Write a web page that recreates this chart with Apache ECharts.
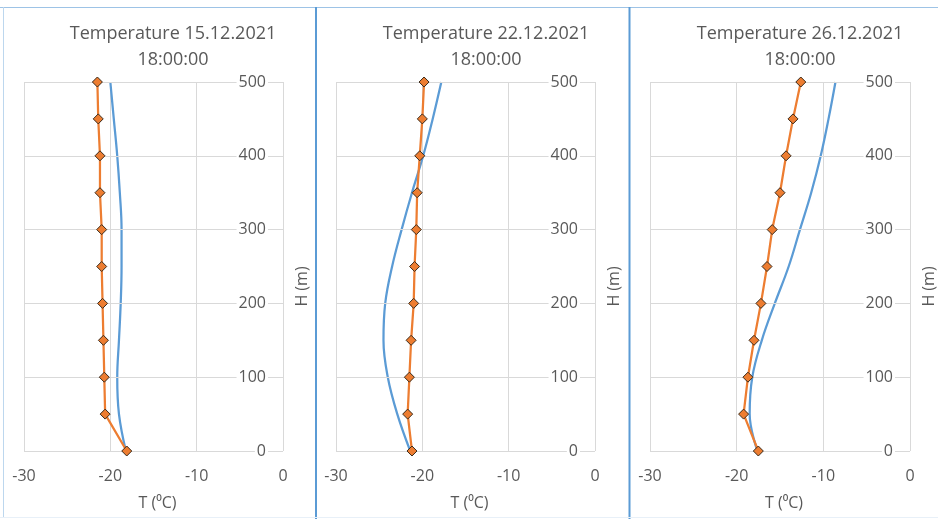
<!DOCTYPE html>
<html>
<head>
<meta charset="utf-8">
<script src="https://cdn.jsdelivr.net/npm/echarts@6/dist/echarts.min.js"></script>
<style>
html,body{margin:0;padding:0;background:#fff;}
#chart{width:938px;height:519px;}
</style>
</head>
<body>
<div id="chart"></div>
<script>
// Heights (m)
var heights = [0, 50, 100, 150, 200, 250, 300, 350, 400, 450, 500];
// Panel titles
var titles = ['Temperature 15.12.2021\n18:00:00', 'Temperature 22.12.2021\n18:00:00', 'Temperature 26.12.2021\n18:00:00'];
// Measured (orange, markers) temperatures
var measured1 = [-18.1, -20.6, -20.7, -20.8, -20.9, -21.0, -21.0, -21.2, -21.2, -21.4, -21.5];
var measured2 = [-21.2, -21.7, -21.5, -21.3, -21.0, -20.9, -20.7, -20.6, -20.3, -20.0, -19.8];
var measured3 = [-17.5, -19.2, -18.7, -18.0, -17.2, -16.5, -15.9, -15.0, -14.3, -13.5, -12.6];
// Model (blue, smooth) temperatures
var model1 = [-18.2, -19.0, -19.2, -19.0, -18.8, -18.7, -18.7, -18.9, -19.2, -19.6, -20.0];
var model2 = [-21.4, -22.9, -24.0, -24.5, -24.3, -23.5, -22.4, -21.2, -19.9, -18.8, -17.8];
var model3 = [-17.6, -18.5, -18.2, -17.1, -15.6, -14.0, -12.7, -11.4, -10.3, -9.4, -8.6];
// Axis settings
var xMin = -30, xMax = 0, xStep = 10;
var yMin = 0, yMax = 500, yStep = 100;

var measured = [measured1, measured2, measured3];
var model = [model1, model2, model3];

var gridLefts = [24, 336, 650];
var gridWidths = [259, 259, 260];
var titleCenters = [168, 481, 795];
var txt = '#595959';
var fontFam = '"Open Sans", "Liberation Sans", sans-serif';

function pairs(xs) { return xs.map(function (v, i) { return [v, heights[i]]; }); }

var option = {
  backgroundColor: '#fff',
  animation: false,
  title: titles.map(function (t, i) {
    return {
      text: t, left: titleCenters[i], top: 16, textAlign: 'center',
      textStyle: { color: txt, fontSize: 18, fontWeight: 'normal', fontFamily: fontFam, lineHeight: 26 }
    };
  }),
  grid: gridLefts.map(function (l, i) {
    return { left: l, width: gridWidths[i], top: 82, bottom: 68, containLabel: false };
  }),
  xAxis: [0, 1, 2].map(function (i) {
    return {
      type: 'value', gridIndex: i, min: xMin, max: xMax, interval: xStep,
      name: 'T (\u2070C)', nameLocation: 'middle', nameGap: 44,
      nameTextStyle: { color: txt, fontSize: 16, fontFamily: fontFam, padding: [0, 0, 0, 8] },
      axisLine: { show: false }, axisTick: { show: false },
      axisLabel: { color: txt, fontSize: 16, fontFamily: fontFam, margin: 17 },
      splitLine: { show: true, lineStyle: { color: '#d9d9d9', width: 1 } }
    };
  }),
  yAxis: [0, 1, 2].map(function (i) {
    return {
      type: 'value', gridIndex: i, position: 'right', min: yMin, max: yMax, interval: yStep,
      name: 'H (m)', nameLocation: 'middle', nameGap: 11, nameRotate: 90,
      nameTextStyle: { color: txt, fontSize: 16, fontFamily: fontFam, padding: [0, 40, 0, 0] },
      axisLine: { show: false }, axisTick: { show: false },
      axisLabel: { inside: true, color: txt, fontSize: 16, fontFamily: fontFam, margin: 15,
        backgroundColor: '#fff', padding: [0, 2, 0, 2] },
      splitLine: { show: true, lineStyle: { color: '#d9d9d9', width: 1 } },
      z: 3
    };
  }),
  series: [],
  graphic: [
    { type: 'line', shape: { x1: 0, y1: 7.5, x2: 938, y2: 7.5 }, style: { stroke: '#9dc3e6', lineWidth: 1 }, silent: true },
    { type: 'line', shape: { x1: 3.5, y1: 7, x2: 3.5, y2: 517 }, style: { stroke: '#bdd7ee', lineWidth: 1 }, silent: true },
    { type: 'line', shape: { x1: 316, y1: 7, x2: 316, y2: 519 }, style: { stroke: '#5b9bd5', lineWidth: 2 }, silent: true },
    { type: 'line', shape: { x1: 629.5, y1: 7, x2: 629.5, y2: 519 }, style: { stroke: '#5b9bd5', lineWidth: 2 }, silent: true },
    { type: 'line', shape: { x1: 0, y1: 517.5, x2: 938, y2: 517.5 }, style: { stroke: '#e8f0f8', lineWidth: 1 }, silent: true }
  ]
};

for (var i = 0; i < 3; i++) {
  option.series.push({
    type: 'line', xAxisIndex: i, yAxisIndex: i, data: pairs(model[i]),
    smooth: 0.4, showSymbol: false, symbol: 'none',
    lineStyle: { color: '#5b9bd5', width: 2.25 }, z: 2
  });
  option.series.push({
    type: 'line', xAxisIndex: i, yAxisIndex: i, data: pairs(measured[i]),
    symbol: 'diamond', symbolSize: 10,
    lineStyle: { color: '#ed7d31', width: 2.25 },
    itemStyle: { color: '#ed7d31', borderColor: '#3a2a1a', borderWidth: 1 }, z: 4
  });
}

var chart = echarts.init(document.getElementById('chart'), null, { renderer: 'canvas' });
chart.setOption(option);
</script>
</body>
</html>
